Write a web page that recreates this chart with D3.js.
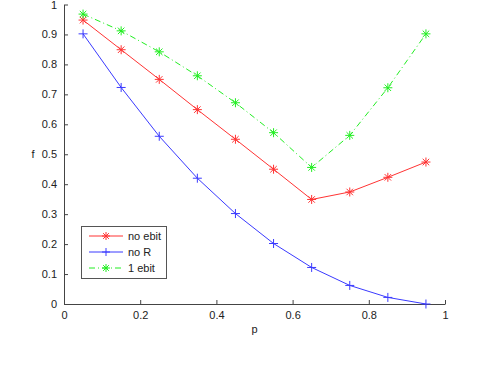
<!DOCTYPE html>
<html>
<head>
<meta charset="UTF-8">
<script src="https://d3js.org/d3.v7.min.js"></script>
<style>
  body { margin: 0; background: #fff; }
  svg text { font-family: 'Liberation Sans', Arial, sans-serif; font-size: 11px; fill: #222; }
</style>
</head>
<body>
<svg id="chart" width="491" height="368"></svg>
<script>
  // data
  const pValues = [0.05, 0.15, 0.25, 0.35, 0.45, 0.55, 0.65, 0.75, 0.85, 0.95];
  const noEbit = [0.948, 0.849, 0.75, 0.649, 0.55, 0.45, 0.349, 0.374, 0.423, 0.474];
  const noR = [0.902, 0.723, 0.56, 0.42, 0.302, 0.202, 0.122, 0.062, 0.022, 0.0];
  const oneEbit = [0.968, 0.912, 0.842, 0.762, 0.672, 0.572, 0.456, 0.563, 0.722, 0.902];
  const xTicks = [0, 0.2, 0.4, 0.6, 0.8, 1];
  const yTicks = [0, 0.1, 0.2, 0.3, 0.4, 0.5, 0.6, 0.7, 0.8, 0.9, 1];

  const series = [
    { name: 'no ebit', values: noEbit, color: '#ff3333', marker: 'star', dash: null },
    { name: 'no R', values: noR, color: '#3a3aff', marker: 'plus', dash: null },
    { name: '1 ebit', values: oneEbit, color: '#22ee22', marker: 'star', dash: '6,3,1,3' }
  ];

  const margin = { top: 4.5, right: 46, bottom: 64, left: 64 };
  const width = 491, height = 368;
  const svg = d3.select('#chart');

  const x = d3.scaleLinear().domain([0, 1]).range([margin.left, width - margin.right]);
  const y = d3.scaleLinear().domain([0, 1]).range([height - margin.bottom, margin.top]);

  // axes (ticks point inward, like matlab)
  const xAxis = svg.append('g')
    .attr('transform', `translate(0,${y(0)})`)
    .call(d3.axisBottom(x).tickValues(xTicks).tickFormat(d3.format('')).tickSizeInner(-4).tickSizeOuter(0).tickPadding(7));
  const yAxis = svg.append('g')
    .attr('transform', `translate(${x(0)},0)`)
    .call(d3.axisLeft(y).tickValues(yTicks).tickFormat(d3.format('')).tickSizeInner(-4).tickSizeOuter(0).tickPadding(7));
  [xAxis, yAxis].forEach(a => {
    a.select('.domain').attr('stroke', '#444');
    a.selectAll('.tick line').attr('stroke', '#444');
    a.selectAll('text').attr('font-size', 11).attr('fill', '#222')
      .attr('font-family', "'Liberation Sans', Arial, sans-serif");
  });

  svg.append('text').attr('x', (x(0) + x(1)) / 2).attr('y', 333).attr('text-anchor', 'middle').text('p');
  svg.append('text').attr('x', 33).attr('y', 158).attr('text-anchor', 'middle').text('f');

  function drawMarker(g, type, cx, cy, color, s) {
    const p = d3.path();
    p.moveTo(cx - s, cy); p.lineTo(cx + s, cy);
    p.moveTo(cx, cy - s); p.lineTo(cx, cy + s);
    if (type === 'star') {
      const d = s * 0.72;
      p.moveTo(cx - d, cy - d); p.lineTo(cx + d, cy + d);
      p.moveTo(cx - d, cy + d); p.lineTo(cx + d, cy - d);
    }
    g.append('path').attr('d', p.toString()).attr('stroke', color).attr('stroke-width', 1).attr('fill', 'none');
  }

  const line = d3.line().x((d, i) => x(pValues[i])).y(d => y(d));

  series.forEach(s => {
    const g = svg.append('g');
    g.append('path').datum(s.values)
      .attr('d', line)
      .attr('fill', 'none')
      .attr('stroke', s.color)
      .attr('stroke-width', 1)
      .attr('stroke-dasharray', s.dash);
    s.values.forEach((v, i) => drawMarker(g, s.marker, x(pValues[i]), y(v), s.color, 4.5));
  });

  // legend
  const lg = svg.append('g');
  lg.append('rect').attr('x', 81.5).attr('y', 226.5).attr('width', 85).attr('height', 52)
    .attr('fill', '#fff').attr('stroke', '#555').attr('stroke-width', 1);
  series.forEach((s, i) => {
    const ly = 236 + i * 16;
    lg.append('line').attr('x1', 89).attr('x2', 123).attr('y1', ly).attr('y2', ly)
      .attr('stroke', s.color).attr('stroke-width', 1).attr('stroke-dasharray', s.dash);
    drawMarker(lg, s.marker, 106, ly, s.color, 4);
    lg.append('text').attr('x', 128).attr('y', ly + 4).text(s.name);
  });
</script>
</body>
</html>
